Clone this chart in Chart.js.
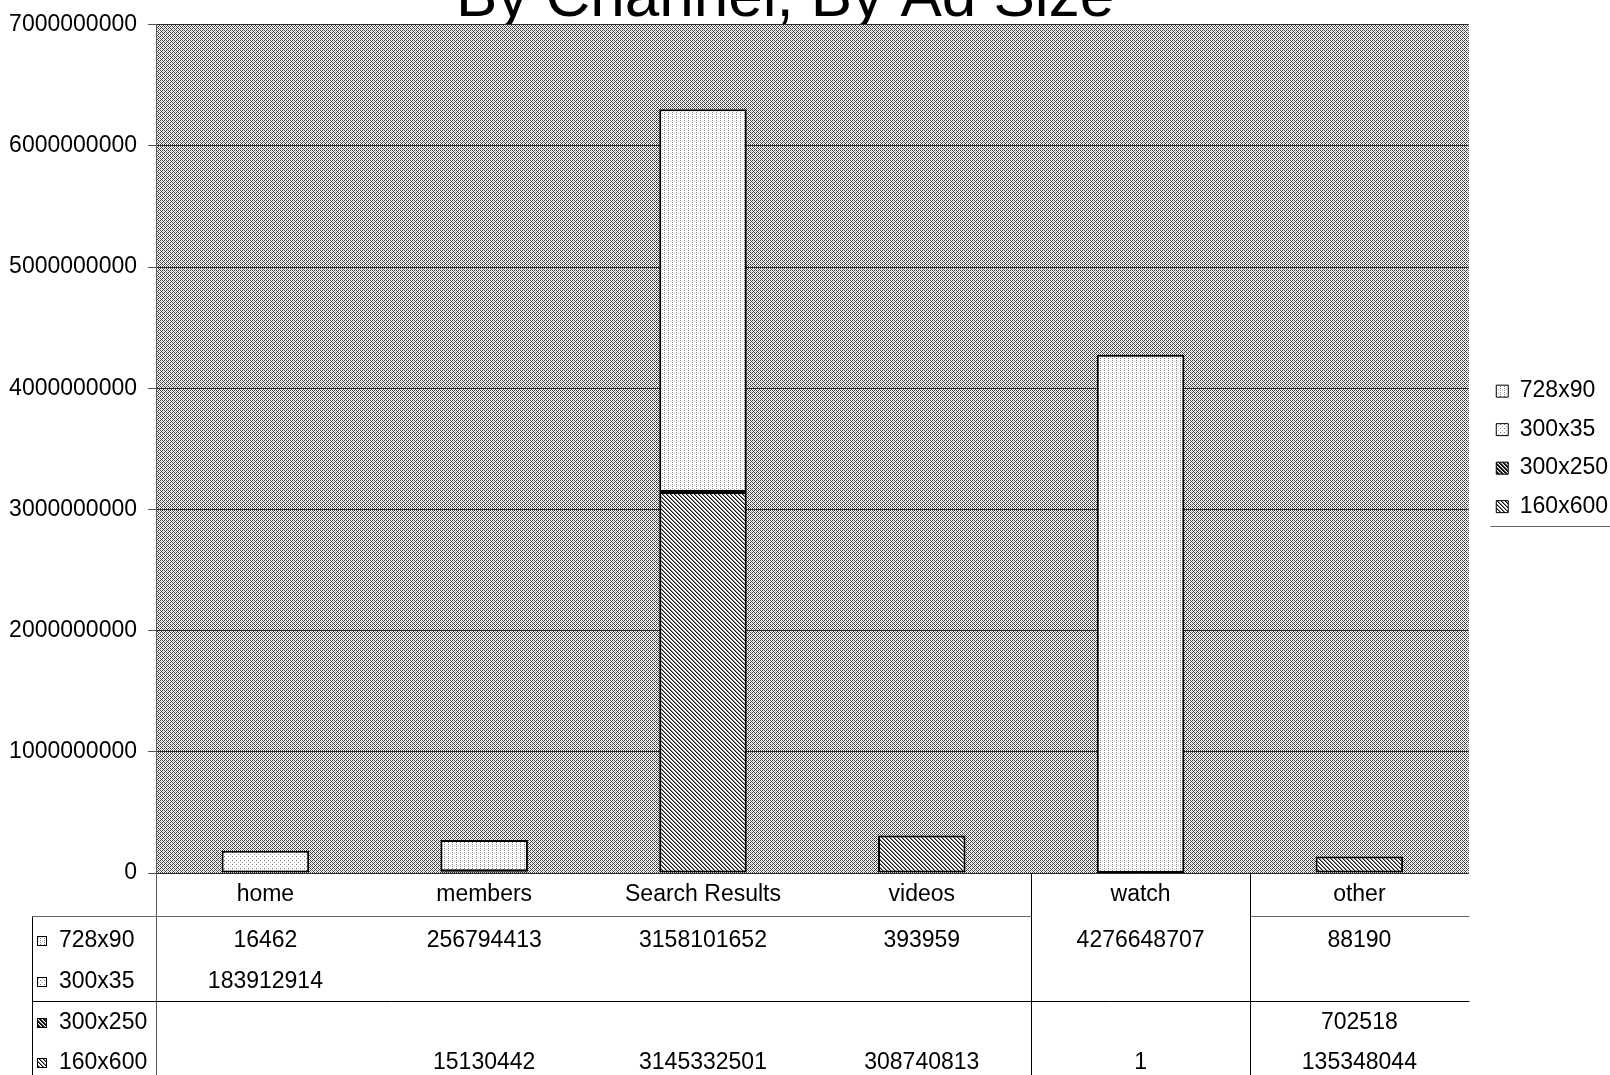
<!DOCTYPE html>
<html>
<head>
<meta charset="utf-8">
<title>By Channel, By Ad Size</title>
<script src="https://cdn.jsdelivr.net/npm/chart.js@4/dist/chart.umd.min.js"></script>
<style>
  html, body { margin: 0; padding: 0; background: #fff; }
  canvas { display: block; }
</style>
</head>
<body>
<canvas id="graph" width="1610" height="1075"></canvas>
<script>
const channels = ['home', 'members', 'Search Results', 'videos', 'watch', 'other'];
const size728x90 = [16462, 256794413, 3158101652, 393959, 4276648707, 88190];
const size300x35 = [183912914, null, null, null, null, null];
const size300x250 = [null, null, null, null, null, 702518];
const size160x600 = [null, 15130442, 3145332501, 308740813, 1, 135348044];
const yMax = 7000000000;
const yStep = 1000000000;
const chartTitle = 'By Channel, By Ad Size';

const FONT = '"Liberation Sans", Arial, sans-serif';

// tiny bitmap tiles repeated as fills
function makePattern(size, paint) {
    const c = document.createElement('canvas');
    c.width = size;
    c.height = size;
    const g = c.getContext('2d');
    g.fillStyle = '#fff';
    g.fillRect(0, 0, size, size);
    for (let y = 0; y < size; y++) {
        for (let x = 0; x < size; x++) {
            const col = paint(x, y);
            if (col) {
                g.fillStyle = col;
                g.fillRect(x, y, 1, 1);
            }
        }
    }
    return g.createPattern(c, 'repeat');
}

const patterns = {
    plot: makePattern(4, (x, y) => {
        if ((x + y) % 2 !== 0) return null;
        if ((x === 1 && y === 1) || (x === 3 && y === 3)) return '#b0b0b0';
        return '#404040';
    }),
    s728: makePattern(4, (x, y) => {
        if (x % 4 === 0 && y % 2 === 0) return '#888';
        if (x === 2 && y === 1) return '#bbb';
        return null;
    }),
    s300x35: makePattern(4, (x, y) => {
        if (x === 0 && y === 0) return '#777';
        if (x === 2 && y === 2) return '#aaa';
        return null;
    }),
    s300x250: makePattern(4, (x, y) => {
        const d = (x - y + 8) % 4;
        return d < 2 ? '#111' : (d === 2 ? '#777' : null);
    }),
    s160x600: makePattern(4, (x, y) => {
        const d = (x - y + 8) % 4;
        return d === 0 ? '#111' : (d === 1 ? '#888' : null);
    })
};

// table rows, top to bottom, same order as the legend
const tableRows = [
    { label: '728x90', values: size728x90, fill: patterns.s728 },
    { label: '300x35', values: size300x35, fill: patterns.s300x35 },
    { label: '300x250', values: size300x250, fill: patterns.s300x250 },
    { label: '160x600', values: size160x600, fill: patterns.s160x600 }
];
const rowY = [941, 982, 1023, 1063];

function bar(label, data, fill) {
    return {
        label: label,
        data: data,
        backgroundColor: fill,
        borderColor: '#000',
        borderWidth: 2,
        borderSkipped: false,
        barPercentage: 0.4,
        categoryPercentage: 1.0
    };
}

function line(ctx, x1, y1, x2, y2, color) {
    ctx.strokeStyle = color;
    ctx.beginPath();
    ctx.moveTo(Math.round(x1) + 0.5, Math.round(y1) + 0.5);
    ctx.lineTo(Math.round(x2) + 0.5, Math.round(y2) + 0.5);
    ctx.stroke();
}

const backdrop = {
    id: 'backdrop',
    beforeDraw(chart) {
        const { ctx, chartArea: a } = chart;
        ctx.save();
        ctx.font = '62px ' + FONT;
        ctx.fillStyle = '#000';
        ctx.textAlign = 'center';
        ctx.textBaseline = 'alphabetic';
        ctx.fillText(chartTitle, 785, 16);
        ctx.fillStyle = patterns.plot;
        ctx.fillRect(a.left, a.top, a.right - a.left, a.bottom - a.top);
        ctx.restore();
        // push the legend column a little further right
        const lg = chart.legend;
        lg.left = a.right + 12;
        lg.right = lg.left + lg.width;
    }
};

const dataTable = {
    id: 'dataTable',
    afterDraw(chart) {
        const { ctx, scales: { x } } = chart;
        const H = chart.height;
        const top = x.top;
        const left = 32;
        const mid = i => x.getPixelForValue(i);
        const edge = i => (mid(i) + mid(i + 1)) / 2;
        const headerY = 916;
        const splitY = 1001;

        ctx.save();
        ctx.lineWidth = 1;
        line(ctx, x.left, top, x.left, H, '#555');
        line(ctx, edge(3), top, edge(3), H, '#000');
        line(ctx, edge(4), top, edge(4), H, '#000');
        line(ctx, left, headerY, left, H, '#000');
        line(ctx, left, headerY, edge(3), headerY, '#666');
        line(ctx, edge(4), headerY, x.right, headerY, '#666');
        line(ctx, left, splitY, x.right, splitY, '#000');

        ctx.font = '23px ' + FONT;
        ctx.fillStyle = '#000';
        ctx.textBaseline = 'middle';
        tableRows.forEach((row, r) => {
            const y = rowY[r];
            ctx.fillStyle = row.fill;
            ctx.fillRect(37, y - 5, 9, 9);
            ctx.strokeStyle = '#000';
            ctx.strokeRect(37.5, y - 4.5, 9, 9);
            ctx.fillStyle = '#000';
            ctx.textAlign = 'left';
            ctx.fillText(row.label, 59, y);
            ctx.textAlign = 'center';
            row.values.forEach((v, i) => {
                if (v !== null) ctx.fillText(String(v), mid(i), y);
            });
        });

        // rule under the legend
        const lg = chart.legend;
        const boxes = lg.legendHitBoxes;
        const last = boxes[boxes.length - 1];
        const ly = last.top + last.height + 8;
        line(ctx, chart.chartArea.right + 21, ly, chart.width, ly, '#666');
        ctx.restore();
    }
};

const ctx = document.getElementById('graph').getContext('2d');
const myChart = new Chart(ctx, {
    type: 'bar',
    data: {
        labels: channels,
        datasets: [
            bar('160x600', size160x600, patterns.s160x600),
            bar('300x250', size300x250, patterns.s300x250),
            bar('300x35', size300x35, patterns.s300x35),
            bar('728x90', size728x90, patterns.s728)
        ]
    },
    options: {
        responsive: false,
        animation: false,
        layout: {
            padding: { top: 23, left: 0, right: 4, bottom: 0 }
        },
        scales: {
            x: {
                stacked: true,
                grid: { display: false, drawTicks: false },
                border: { display: false },
                ticks: {
                    color: '#000',
                    padding: 8,
                    font: { family: FONT, size: 23 }
                },
                afterFit: s => { s.height = 202; }
            },
            y: {
                stacked: true,
                min: 0,
                max: yMax,
                grid: { color: '#2a2a2a', lineWidth: 1, tickLength: 8, tickColor: '#555' },
                border: { display: true, color: '#555', width: 1 },
                ticks: {
                    stepSize: yStep,
                    color: '#000',
                    padding: 11,
                    font: { family: FONT, size: 23 },
                    callback: v => String(v)
                },
                afterFit: s => { s.width = 156; }
            }
        },
        plugins: {
            tooltip: { enabled: false },
            legend: {
                position: 'right',
                fullSize: false,
                reverse: true,
                maxWidth: 140,
                labels: {
                    color: '#000',
                    font: { family: FONT, size: 23 },
                    boxWidth: 12,
                    boxHeight: 12,
                    padding: 15.5,
                    generateLabels: chart => {
                        const items = Chart.defaults.plugins.legend.labels.generateLabels(chart);
                        items.forEach(it => { it.lineWidth = 1; });
                        return items;
                    }
                }
            }
        }
    },
    plugins: [backdrop, dataTable]
});
</script>
</body>
</html>
